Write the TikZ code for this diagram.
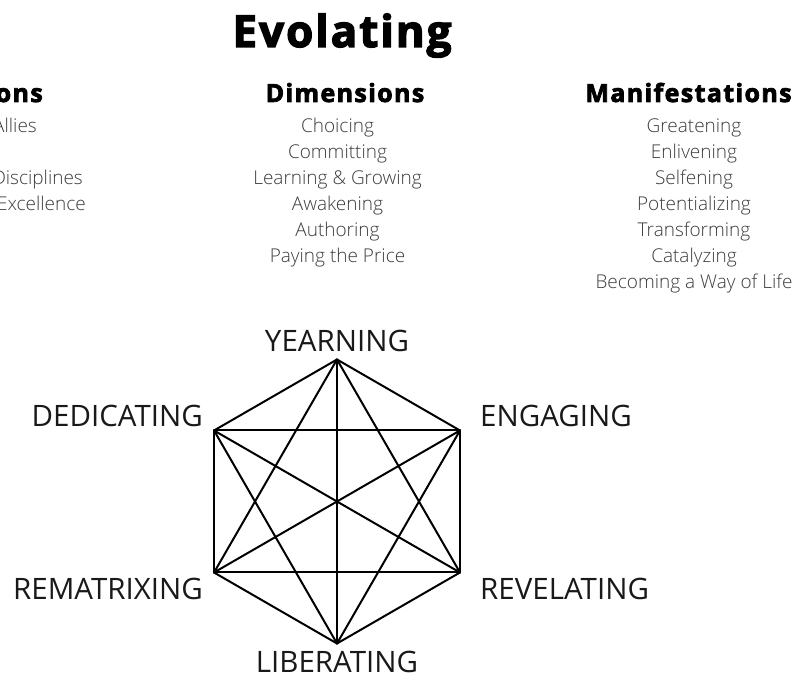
\documentclass[tikz,border=0pt]{standalone}
\usepackage{fontspec}
\setmainfont{Open Sans}
% heavy faces for title and headings, light face for the lists
\IfFontExistsTF{Open Sans ExtraBold}
	{\newfontfamily\headfont{Open Sans ExtraBold}[LetterSpace=4]
	 \newfontfamily\titlefont{Open Sans ExtraBold}[LetterSpace=3]}
	{\newfontfamily\headfont{Open Sans Bold}[LetterSpace=5.5, FakeBold=3]
	 \newfontfamily\titlefont{Open Sans Bold}[LetterSpace=4.5, FakeBold=3]}
\IfFontExistsTF{Open Sans Light}
	{\newfontfamily\lightfont{Open Sans Light}}
	{\newfontfamily\lightfont{Open Sans}}
\usetikzlibrary{calc}
\definecolor{itemgray}{HTML}{3C3C3C}
\tikzset{
  heading/.style={font=\fontsize{25}{28}\headfont, inner sep=0pt},
  entry/.style={font=\fontsize{19}{22}\lightfont, text=itemgray, inner sep=0pt, anchor=base},
  vertexlabel/.style={font=\fontsize{29.5}{36}\selectfont, text=black!90, inner sep=0pt},
  edge/.style={line width=2pt, line join=round, line cap=round}
}
\begin{document}
\begin{tikzpicture}[x=1pt,y=1pt]
	\useasboundingbox (0,0) rectangle (796,675);
	\clip (0,0) rectangle (796,675);

	% title
	\node[font=\fontsize{44}{52}\titlefont, anchor=base, inner sep=0pt] (title) at (342,628) {Evolating};

	% left column, runs off the page
	\node[heading, anchor=base east] (leftHead) at (43,573) {ons};
	\node[entry, anchor=base east] (left1) at (37,542) {Allies};
	\node[entry, anchor=base east] (left3) at (83,490) {Disciplines};
	\node[entry, anchor=base east] (left4) at (86,464) {Excellence};

	% dimensions
	\node[heading, anchor=base] (dimHead) at (345,573) {Dimensions};
	\foreach \txt [count=\i] in {Choicing, Committing, Learning \& Growing, Awakening, Authoring, Paying the Price}
		\node[entry] (dim\i) at (337.5,568-26*\i) {\txt};

	% manifestations
	\node[heading, anchor=base] (manHead) at (688.5,573) {Manifestations};
	\foreach \txt [count=\i] in {Greatening, Enlivening, Selfening, Potentializing, Transforming, Catalyzing, Becoming a Way of Life}
		\node[entry] (man\i) at (694,568-26*\i) {\txt};

	% hexagon corners
	\coordinate (c) at (337,173.5);
	\foreach \v [count=\k] in {yea,eng,rev,lib,rem,ded}
		\coordinate (\v) at ($(c)+(150-60*\k:142)$);

	% every corner joined to every other
	\foreach \a/\b in {yea/eng, eng/rev, rev/lib, lib/rem, rem/ded, ded/yea,
		yea/lib, eng/rem, rev/ded,
		yea/rev, yea/rem, eng/lib, eng/ded, rev/rem, lib/ded}
		\draw[edge] (\a) -- (\b);

	% corner labels
	\node[vertexlabel, anchor=base] (yeaL) at (337,323) {YEARNING};
	\node[vertexlabel, anchor=base west] (engL) at (480,248) {ENGAGING};
	\node[vertexlabel, anchor=base west] (revL) at (480,75) {REVELATING};
	\node[vertexlabel, anchor=base] (libL) at (337,2) {LIBERATING};
	\node[vertexlabel, anchor=base east] (remL) at (203,75) {REMATRIXING};
	\node[vertexlabel, anchor=base east] (dedL) at (203,248) {DEDICATING};
\end{tikzpicture}
\end{document}
